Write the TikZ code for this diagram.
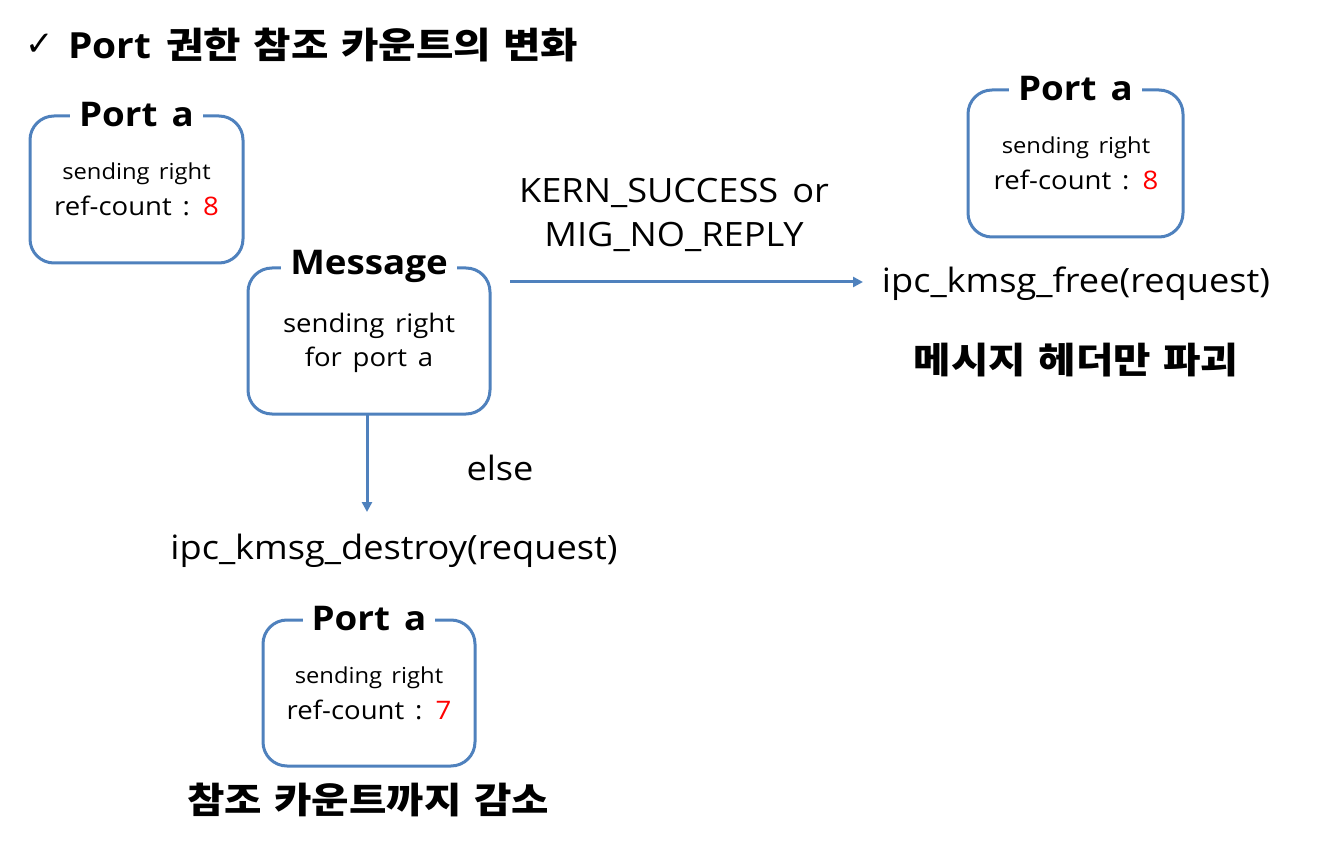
\documentclass[tikz,border=0pt]{standalone}
\usepackage{fontspec}
\usetikzlibrary{arrows.meta}
\setmainfont[FakeStretch=1.08, WordSpace=1.5]{Open Sans}
\newfontfamily\kor[FakeStretch=1.13, WordSpace=1.35]{Noto Sans CJK KR}
\newfontfamily\symf{DejaVu Sans}
\definecolor{boxblue}{HTML}{4F81BD}
\definecolor{numred}{HTML}{FF0000}
\newcommand{\fsz}[1]{\fontsize{#1}{#1}\selectfont}
\begin{document}
\begin{tikzpicture}[x=1pt,y=-1pt,
  portbox/.style={draw=boxblue, line width=3pt, rounded corners=24pt, inner sep=0pt},
  ttl/.style={fill=white, font=\bfseries\fsz{34}, inner xsep=9pt, inner ysep=2pt},
  small/.style={font=\fsz{22}, inner sep=0pt},
  mid/.style={font=\fsz{25.5}, inner sep=0pt},
  big/.style={font=\fsz{33.5}, inner sep=0pt},
  kb/.style={font=\kor\bfseries\fsz{36}, inner sep=0pt},
  conn/.style={draw=boxblue, line width=3pt, -{Triangle[length=10pt,width=10pt]}}
]
\useasboundingbox (0,0) rectangle (1342,845);

% title
\node[anchor=west, inner sep=0pt, font=\fsz{34}] (chk) at (25,45) {\symf ✓};
\node[anchor=west, inner sep=0pt, font=\bfseries\fsz{36}] (title) at (68,45) {Port {\kor\fsz{36}권한 참조 카운트의 변화}};

% box A
\node[portbox, minimum width=213pt, minimum height=147pt] (boxA) at (136.5,189.5) {};
\node[ttl] (tA) at (boxA.north) {Port a};
\node[small] (a1) at (136.5,174) {sending right};
\node[mid] (a2) at (136.5,206) {ref-count : \textcolor{numred}{8}};

% message box
\node[portbox, minimum width=242pt, minimum height=146pt] (msg) at (369,341) {};
\node[ttl] (tM) at (msg.north) {Message};
\node[mid] (m1) at (369,326) {sending right};
\node[mid] (m2) at (369,360) {for port a};

% box C
\node[portbox, minimum width=215pt, minimum height=147pt] (boxC) at (1075.5,163.5) {};
\node[ttl] (tC) at (boxC.north) {Port a};
\node[small] (c1) at (1076,148) {sending right};
\node[mid] (c2) at (1076,180) {ref-count : \textcolor{numred}{8}};

% box D
\node[portbox, minimum width=212pt, minimum height=146pt] (boxD) at (369,693) {};
\node[ttl] (tD) at (boxD.north) {Port a};
\node[small] (d1) at (369,678) {sending right};
\node[mid] (d2) at (369,710) {ref-count : \textcolor{numred}{7}};

% texts
\node[big] (kern) at (674,193) {KERN\_SUCCESS or};
\node[big] (mig) at (674,237) {MIG\_NO\_REPLY};
\node[big] (free) at (1076,284) {ipc\_kmsg\_free(request)};
\node[kb] (hdr) at (1076,360) {메시지 헤더만 파괴};
\node[big] (else) at (500,468) {else};
\node[big] (destroy) at (394,551) {ipc\_kmsg\_destroy(request)};
\node[kb] (dec) at (368,800) {참조 카운트까지 감소};

% connectors
\coordinate (hs) at (510,282);
\coordinate (he) at (863,282);
\coordinate (vs) at (367,415);
\coordinate (ve) at (367,512);
\draw[conn] (hs) -- (he);
\draw[conn] (vs) -- (ve);
\end{tikzpicture}
\end{document}
